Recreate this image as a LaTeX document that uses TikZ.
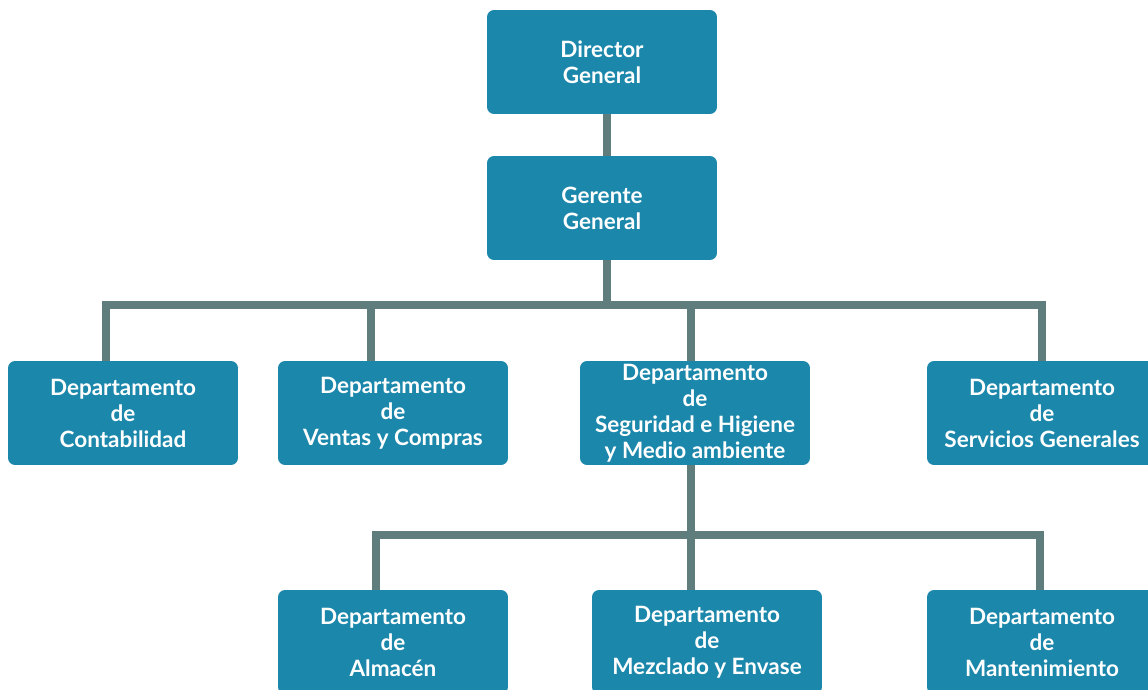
\documentclass[tikz,border=0pt]{standalone}
\usepackage{fontspec}
\setmainfont{Lato}
\usepackage{tikz}
\usetikzlibrary{calc}

\definecolor{boxblue}{HTML}{1A87AB}
\definecolor{linegray}{HTML}{5F7D7C}

\tikzset{
	unit/.style={fill=boxblue, rounded corners=4pt, minimum width=4.6cm, minimum height=2.08cm,
		align=center, text=white, font=\fontsize{12.8}{14.8}\selectfont\bfseries, inner sep=0pt},
	link/.style={draw=linegray, line width=4.6pt, line join=miter}
}

\begin{document}
\begin{tikzpicture}[x=0.02cm, y=-0.02cm]
	
	\useasboundingbox (0,0) rectangle (1148,689);
	\clip (0,0) rectangle (1148,689);
	
	\node[unit] (dir) at (602,62) {Director\\General};
	\node[unit] (ger) at (602,208) {Gerente\\General};
	\node[unit] (cont) at (123,413) {Departamento\\de\\Contabilidad};
	\node[unit] (vent) at (393,413) {Departamento\\de\\Ventas y Compras};
	\node[unit] (seg) at (695,413) {Departamento\\de\\Seguridad e Higiene\\y Medio ambiente};
	\node[unit] (serv) at (1042,413) {Departamento\\de\\Servicios Generales};
	\node[unit] (alm) at (393,642) {Departamento\\de\\Almac\'en};
	\node[unit] (mez) at (707,642) {Departamento\\de\\Mezclado y Envase};
	\node[unit] (mant) at (1042,642) {Departamento\\de\\Mantenimiento};
	
	% first level bus
	\coordinate (g) at (607,305);
	\coordinate (b1) at (106,305);
	\coordinate (b2) at (371,305);
	\coordinate (b3) at (691,305);
	\coordinate (b4) at (1042,305);
	\draw[link] (dir.south -| g) -- (ger.north -| g);
	\draw[link] (ger.south -| g) -- (g);
	\draw[link] (b1 |- cont.north) -- (b1) -- (b4) -- (b4 |- serv.north);
	\draw[link] (b2) -- (b2 |- vent.north);
	\draw[link] (b3) -- (b3 |- seg.north);
	
	% second level bus
	\coordinate (c1) at (376,535);
	\coordinate (c2) at (691,535);
	\coordinate (c3) at (1040,535);
	\draw[link] (seg.south -| c2) -- (c2 |- mez.north);
	\draw[link] (c1 |- alm.north) -- (c1) -- (c3) -- (c3 |- mant.north);
	
\end{tikzpicture}
\end{document}
